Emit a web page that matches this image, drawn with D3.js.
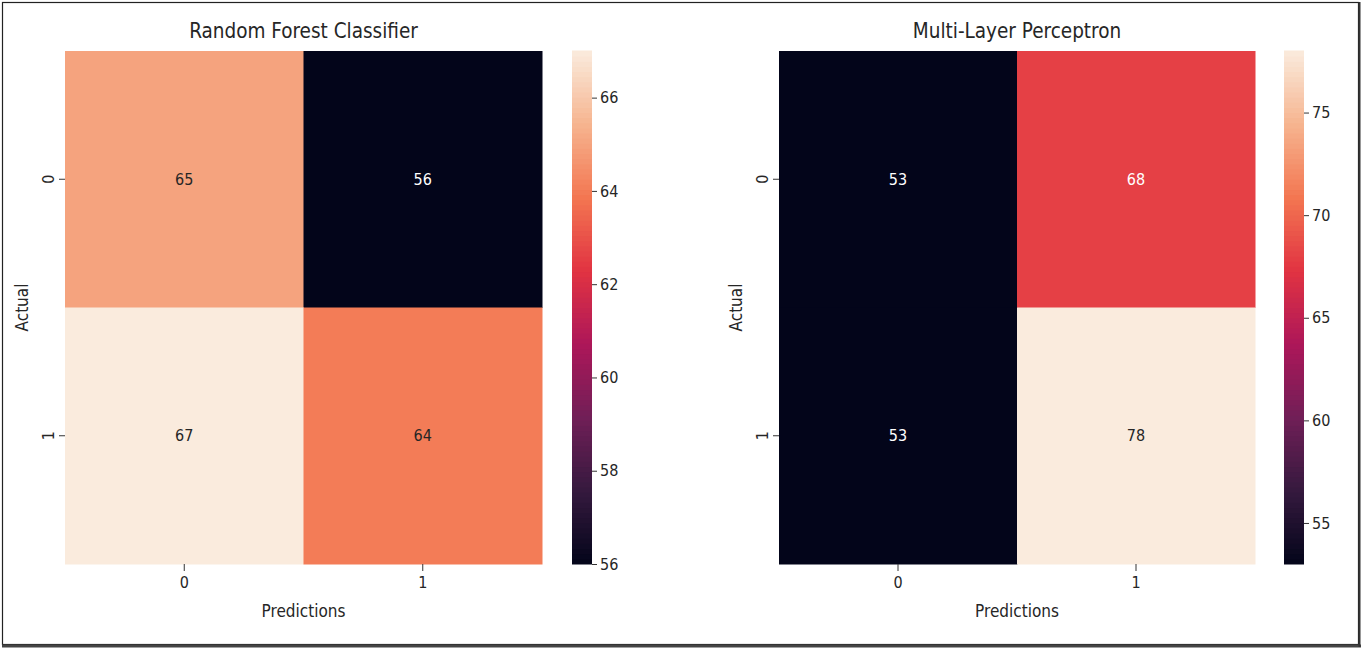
<!DOCTYPE html>
<html>
<head>
<meta charset="utf-8">
<script src="https://cdn.jsdelivr.net/npm/d3@7"></script>
<style>
  body { margin: 0; background: #fff; }
  text { font-family: "DejaVu Sans Condensed", "DejaVu Sans", sans-serif; font-stretch: condensed; fill: #262626; }
</style>
</head>
<body>
<script>
// data
var labels = ["0", "1"];
var rfTitle = "Random Forest Classifier";
var rfValues = [[65, 56], [67, 64]];
var rfTicks = [56, 58, 60, 62, 64, 66];
var mlpTitle = "Multi-Layer Perceptron";
var mlpValues = [[53, 68], [53, 78]];
var mlpTicks = [55, 60, 65, 70, 75];

// seaborn "rocket" sampled
var rocketStops = ["#03051a", "#35193e", "#701f57", "#ad1759", "#e13342", "#f37651", "#f6b48f", "#faebdd"];
var rocket = d3.scaleLinear()
    .domain(d3.range(rocketStops.length).map(function(i) { return i / (rocketStops.length - 1); }))
    .range(rocketStops)
    .interpolate(d3.interpolateRgb);

var W = 1361, H = 648;
var svg = d3.select("body").append("svg")
    .attr("width", W)
    .attr("height", H);

svg.append("rect")
    .attr("x", 2.5).attr("y", 2.5)
    .attr("width", 1356).attr("height", 642)
    .attr("fill", "#fff")
    .attr("stroke", "#222")
    .attr("stroke-width", 1.2);
svg.append("line").attr("x1", 2).attr("x2", 1361).attr("y1", 646).attr("y2", 646)
    .attr("stroke", "#444").attr("stroke-width", 3);
svg.append("line").attr("x1", 1359.5).attr("x2", 1359.5).attr("y1", 2).attr("y2", 647)
    .attr("stroke", "#333").attr("stroke-width", 2);

var topY = 51, bottomY = 564;

function heatmap(x0, x1, cbx, title, values, ticks) {
  var g = svg.append("g");
  var vals = d3.merge(values);
  var lo = d3.min(vals), hi = d3.max(vals);
  var color = function(v) { return rocket((v - lo) / (hi - lo)); };

  var x = d3.scaleBand().domain(labels).range([x0, x1]);
  var y = d3.scaleBand().domain(labels).range([topY, bottomY]);

  var cells = [];
  values.forEach(function(row, i) {
    row.forEach(function(v, j) { cells.push({r: labels[i], c: labels[j], v: v}); });
  });

  g.selectAll("rect.cell").data(cells).enter().append("rect")
      .attr("class", "cell")
      .attr("x", function(d) { return x(d.c); })
      .attr("y", function(d) { return y(d.r); })
      .attr("width", x.bandwidth() + 0.5)
      .attr("height", y.bandwidth() + 0.5)
      .attr("fill", function(d) { return color(d.v); });

  g.selectAll("text.ann").data(cells).enter().append("text")
      .attr("class", "ann")
      .attr("x", function(d) { return x(d.c) + x.bandwidth() / 2; })
      .attr("y", function(d) { return y(d.r) + y.bandwidth() / 2; })
      .attr("text-anchor", "middle")
      .attr("dy", "0.35em")
      .style("font-size", "16px")
      .style("fill", function(d) {
        var c = d3.rgb(color(d.v));
        var lum = 0.2126 * c.r / 255 + 0.7152 * c.g / 255 + 0.0722 * c.b / 255;
        return lum > 0.408 ? "#262626" : "#ffffff";
      })
      .text(function(d) { return d.v; });

  // axes
  var xa = g.append("g").attr("transform", "translate(0," + bottomY + ")")
      .call(d3.axisBottom(x).tickSize(7).tickPadding(6));
  xa.select(".domain").remove();
  xa.selectAll("text").style("font-size", "16px");
  xa.selectAll("line").attr("stroke", "#333");

  var ya = g.append("g").attr("transform", "translate(" + x0 + ",0)")
      .call(d3.axisLeft(y).tickSize(6).tickPadding(4));
  ya.select(".domain").remove();
  ya.selectAll("line").attr("stroke", "#333");
  ya.selectAll("text")
      .style("font-size", "16px")
      .attr("text-anchor", "middle")
      .attr("x", null).attr("dy", null)
      .attr("transform", "translate(-11,0) rotate(-90)");

  g.append("text")
      .attr("x", (x0 + x1) / 2).attr("y", 38)
      .attr("text-anchor", "middle")
      .style("font-size", "20.5px")
      .text(title);
  g.append("text")
      .attr("x", (x0 + x1) / 2).attr("y", 617)
      .attr("text-anchor", "middle")
      .style("font-size", "17px")
      .text("Predictions");
  g.append("text")
      .attr("transform", "translate(" + (x0 - 37) + "," + ((topY + bottomY) / 2) + ") rotate(-90)")
      .attr("text-anchor", "middle")
      .style("font-size", "17px")
      .text("Actual");

  // colorbar
  var cs = d3.scaleLinear().domain([lo, hi]).range([bottomY, topY]);
  var n = 100;
  var steps = d3.range(n).map(function(i) { return lo + (hi - lo) * i / n; });
  g.selectAll("rect.cb").data(steps).enter().append("rect")
      .attr("class", "cb")
      .attr("x", cbx)
      .attr("width", 20)
      .attr("y", function(d) { return cs(d + (hi - lo) / n) - 0.5; })
      .attr("height", (bottomY - topY) / n + 1)
      .attr("fill", function(d) { return color(d + (hi - lo) / (2 * n)); });
  var ca = g.append("g").attr("transform", "translate(" + (cbx + 20) + ",0)")
      .call(d3.axisRight(cs).tickValues(ticks).tickSize(5).tickPadding(3));
  ca.select(".domain").remove();
  ca.selectAll("line").attr("stroke", "#333");
  ca.selectAll("text").style("font-size", "16px");
}

heatmap(65, 542, 572, rfTitle, rfValues, rfTicks);
heatmap(779, 1255, 1284, mlpTitle, mlpValues, mlpTicks);
</script>
</body>
</html>
